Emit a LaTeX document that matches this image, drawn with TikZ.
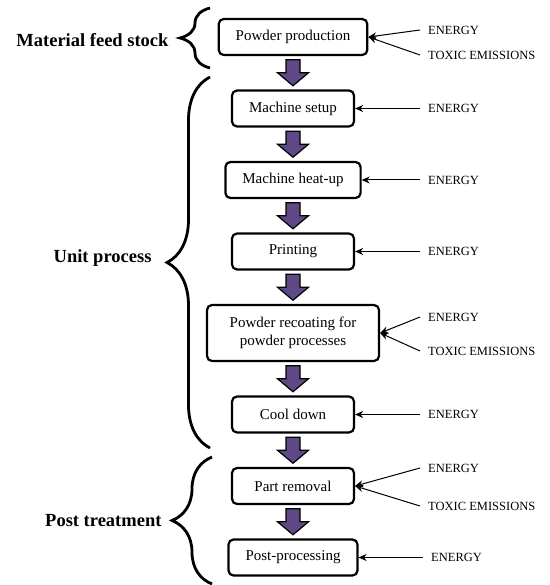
\documentclass[tikz,border=0pt]{standalone}
\usepackage{fontspec}
\setmainfont{Liberation Serif}
\usetikzlibrary{arrows.meta, positioning, calc, decorations.pathreplacing}
\definecolor{flowpurple}{RGB}{94,72,134}

\begin{document}
\begin{tikzpicture}[
  x=1pt, y=-1pt,
  node distance=33.3pt,
  stage/.style={draw, line width=2.2pt, rectangle, rounded corners=5pt, align=center, minimum width=122pt, minimum height=36pt, inner xsep=17pt, font=\fontsize{15}{18}\selectfont},
  input/.style={anchor=west, inner xsep=8pt, inner ysep=2pt, font=\fontsize{12.5}{14}\selectfont},
  group/.style={anchor=east, font=\bfseries\fontsize{18.5}{22}\selectfont},
  inarrow/.style={-{Stealth[length=8pt,width=7pt]}, line width=1pt},
  bigbrace/.style={decorate, decoration={brace, amplitude=#1}, line width=2.8pt},
  fatarrow/.style={draw=black, line width=1.2pt, fill=flowpurple, line join=miter}
]
\useasboundingbox (0,0) rectangle (549,585);

\node[stage] (pp)   at (293,37)     {Powder production};
\node[stage] (ms)   [below=of pp]   {Machine setup};
\node[stage] (mh)   [below=of ms]   {Machine heat-up};
\node[stage] (pr)   [below=of mh]   {Printing};
\node[stage, minimum width=172pt, minimum height=56pt] (rc) [below=of pr] {Powder recoating for\\powder processes};
\node[stage] (cd)   [below=of rc]   {Cool down};
\node[stage] (rm)   [below=of cd]   {Part removal};
\node[stage] (post) [below=of rm]   {Post-processing};

% purple block arrows between the stages
\foreach \a/\b in {pp/ms, ms/mh, mh/pr, pr/rc, rc/cd, cd/rm, rm/post} {
  \coordinate (mid) at ($(\a.south)!0.5!(\b.north)$);
  \draw[fatarrow] ($(mid)+(-7,-13)$) -- ++(14,0) -- ++(0,13) -- ++(8.5,0)
    -- ++(-15.5,13) -- ++(-15.5,-13) -- ++(8.5,0) -- cycle;
}

% braces and group labels
\draw[bigbrace=30] (210,68) -- (210,8);
\draw[bigbrace=43] (210,448) -- (210,77);
\draw[bigbrace=40] (212,584) -- (212,457);
\node[group] (feed) at (172,40)  {Material feed stock};
\node[group] (unit) at (155,258) {Unit process};
\node[group] (treat) at (165,521) {Post treatment};

% inputs and outputs
\coordinate (rcol) at (420,0);
\node[input, yshift=7pt]    (ppE)  at (pp.east -| rcol)   {ENERGY};
\node[input, yshift=-18pt]  (ppT)  at (pp.east -| rcol)   {TOXIC EMISSIONS};
\node[input]                (msE)  at (ms.east -| rcol)   {ENERGY};
\node[input]                (mhE)  at (mh.east -| rcol)   {ENERGY};
\node[input]                (prE)  at (pr.east -| rcol)   {ENERGY};
\node[input, yshift=16pt]   (rcE)  at (rc.east -| rcol)   {ENERGY};
\node[input, yshift=-18pt]  (rcT)  at (rc.east -| rcol)   {TOXIC EMISSIONS};
\node[input]                (cdE)  at (cd.east -| rcol)   {ENERGY};
\node[input, yshift=18pt]   (rmE)  at (rm.east -| rcol)   {ENERGY};
\node[input, yshift=-20pt]  (rmT)  at (rm.east -| rcol)   {TOXIC EMISSIONS};
\node[input, xshift=3pt]    (postE) at (post.east -| rcol) {ENERGY};

\draw[inarrow] (ppE.west)  -- (pp.east);
\draw[inarrow] (ppT.west)  -- (pp.east);
\draw[inarrow] (msE.west)  -- (ms.east);
\draw[inarrow] (mhE.west)  -- (mh.east);
\draw[inarrow] (prE.west)  -- (pr.east);
\draw[inarrow] (rcE.west)  -- (rc.east);
\draw[inarrow] (rcT.west)  -- (rc.east);
\draw[inarrow] (cdE.west)  -- (cd.east);
\draw[inarrow] (rmE.west)  -- (rm.east);
\draw[inarrow] (rmT.west)  -- (rm.east);
\draw[inarrow] (postE.west) -- (post.east);
\end{tikzpicture}
\end{document}
